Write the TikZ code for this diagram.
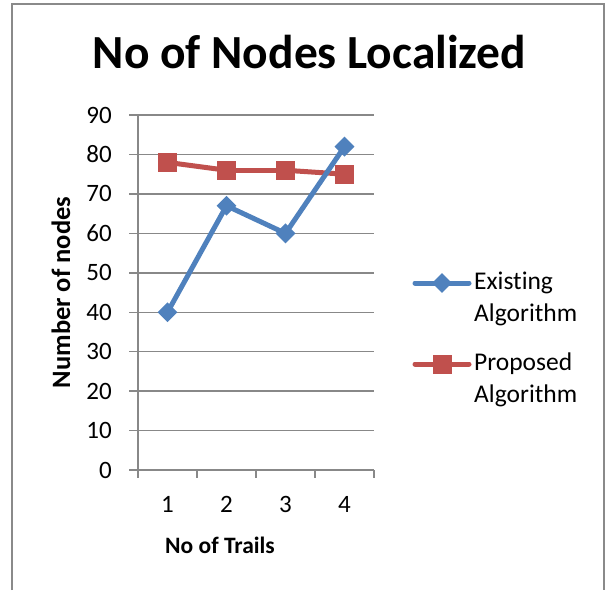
\documentclass[tikz,border=0pt]{standalone}
\usepackage{fontspec}
\setmainfont{Carlito}[Ligatures=NoCommon]
\usepackage{tikz}
\usetikzlibrary{shapes.geometric,positioning,backgrounds}
\definecolor{existblue}{HTML}{4F81BD}
\definecolor{propred}{HTML}{C0504D}
\definecolor{gridgray}{HTML}{888888}
\definecolor{framegray}{HTML}{8A8A8A}

\begin{document}
\begin{tikzpicture}[
    x=1pt, y=-1pt,
    gridline/.style={draw=gridgray, line width=1.4pt},
    ticklabel/.style={font=\fontsize{25}{25}\selectfont, inner sep=0pt},
    axistitle/.style={font=\bfseries\fontsize{23.5}{23.5}\selectfont, inner sep=0pt},
    series/.style={line width=5pt},
    exmark/.style={diamond, fill=existblue, inner sep=0pt, minimum size=20pt},
    prmark/.style={rectangle, fill=propred, inner sep=0pt, minimum size=19pt},
    legendtext/.style={font=\fontsize{25.5}{32}\selectfont, align=left, anchor=west, inner sep=0pt}
]
\useasboundingbox (0,0) rectangle (608,590);

% Frame
\draw[framegray, line width=1.5pt] (12,590) -- (12,4) -- (604,4) -- (604,590);

% Title
\node[font=\bfseries\fontsize{47.5}{47.5}\selectfont, anchor=base, inner sep=0pt] (title) at (309.5,68) {No of Nodes Localized};

% Grid and y axis
\begin{scope}[on background layer]
\foreach \v in {0,10,...,90}
    \draw[gridline] (129,{470-3.944*\v}) -- (374,{470-3.944*\v});
\draw[gridline] (138,115) -- (138,470);
\foreach \i in {0,...,4}
    \draw[gridline] ({138+59*\i},470) -- ({138+59*\i},478);
\end{scope}
\foreach \v in {0,10,...,90}
    \node[ticklabel, anchor=east] (y\v) at (112,{470-3.944*\v}) {\v};
\foreach \i in {1,...,4}
    \node[ticklabel, anchor=base] (x\i) at ({108.5+59*\i},512) {\i};

% Axis titles
\node[axistitle, anchor=base] (xtitle) at (220,553) {No of Trails};
\node[axistitle, anchor=base, rotate=90, font=\bfseries\fontsize{26.5}{26.5}\selectfont] (ytitle) at (70,292.5) {Number of nodes};

% Data points
\foreach \v [count=\i] in {78,76,76,75}
    \node[prmark] (p\i) at ({108.5+59*\i},{470-3.944*\v}) {};
\foreach \v [count=\i] in {40,67,60,82}
    \node[exmark] (e\i) at ({108.5+59*\i},{470-3.944*\v}) {};
\begin{scope}[on background layer]
\foreach \i/\j in {1/2,2/3,3/4} {
    \draw[series, propred] (p\i.center) -- (p\j.center);
    \draw[series, existblue] (e\i.center) -- (e\j.center);
}
\end{scope}

% Legend
\coordinate (le1) at (415,283);
\coordinate (le2) at (469,283);
\coordinate (lp1) at (415,364);
\coordinate (lp2) at (469,364);
\draw[series, existblue, line cap=round] (le1) -- (le2);
\draw[series, propred, line cap=round] (lp1) -- (lp2);
\node[exmark] (lemark) at (442,283) {};
\node[prmark] (lpmark) at (442,364) {};
\node[legendtext] (letext) at (474,299) {Existing\\Algorithm};
\node[legendtext] (lptext) at (474,380) {Proposed\\Algorithm};

\end{tikzpicture}
\end{document}
